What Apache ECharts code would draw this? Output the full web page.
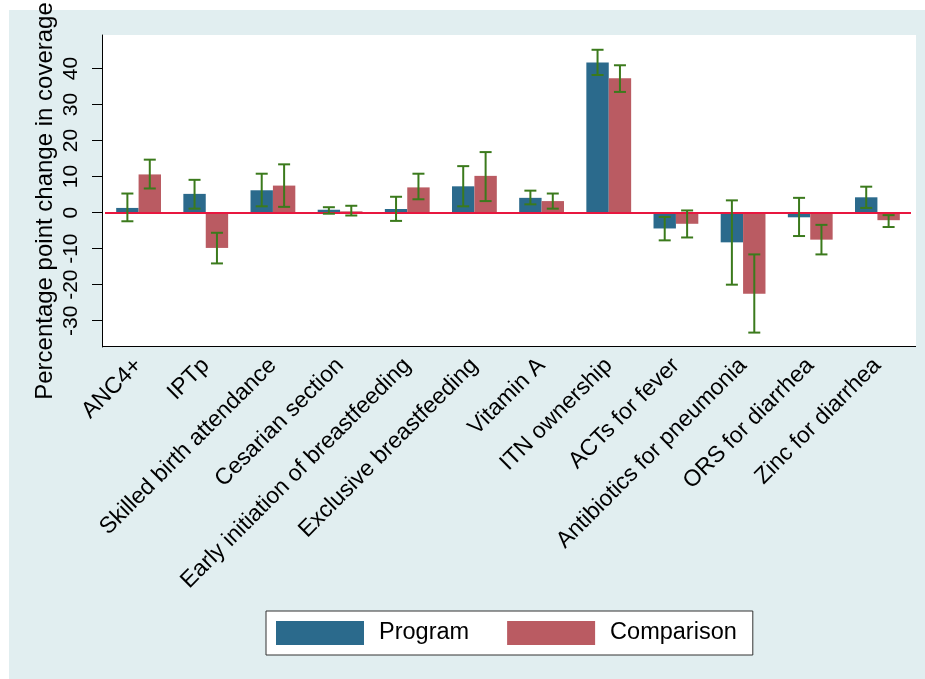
<!DOCTYPE html>
<html>
<head>
<meta charset="utf-8">
<script src="https://cdn.jsdelivr.net/npm/echarts@6/dist/echarts.min.js"></script>
<style>
html,body{margin:0;padding:0;background:#ffffff;}
#chart{width:925px;height:679px;}
</style>
</head>
<body>
<div id="chart"></div>
<script>
const categories = ['ANC4+','IPTp','Skilled birth attendance','Cesarian section','Early initiation of breastfeeding','Exclusive breastfeeding','Vitamin A','ITN ownership','ACTs for fever','Antibiotics for pneumonia','ORS for diarrhea','Zinc for diarrhea'];
const program        = [1.3, 5.2, 6.2, 0.8, 1.0, 7.3, 4.1, 41.7, -4.4, -8.25, -1.3, 4.25];
const programLow     = [-2.4, 1.1, 1.75, -0.3, -2.3, 1.75, 2.3, 38.2, -7.7, -20.0, -6.5, 1.3];
const programHigh    = [5.3, 9.1, 10.8, 1.5, 4.4, 12.9, 6.1, 45.2, -1.2, 3.4, 4.1, 7.2];
const comparison     = [10.6, -9.8, 7.5, 0.35, 7.0, 10.2, 3.2, 37.3, -3.1, -22.5, -7.5, -2.1];
const comparisonLow  = [6.7, -14.1, 1.6, -0.8, 3.7, 3.2, 1.1, 33.5, -6.9, -33.3, -11.6, -4.0];
const comparisonHigh = [14.7, -5.6, 13.4, 1.9, 10.8, 16.8, 5.3, 40.9, 0.6, -11.6, -3.4, -0.7];
const yTicks = [-30, -20, -10, 0, 10, 20, 30, 40];
const yTitle = 'Percentage point change in coverage';
const seriesNames = ['Program', 'Comparison'];

const FONT = '"Liberation Sans", Arial, sans-serif';
const BAR_W = 22.4;
const C_PROG = '#2b6a8c';
const C_COMP = '#ba5b62';
const C_ERR = '#3b7a1c';

function errData(lo, hi) { return lo.map((v, i) => [i, v, hi[i]]); }
function errRender(offset) {
  return function (params, api) {
    const cat = api.value(0), lo = api.value(1), hi = api.value(2);
    const x = api.coord([cat, 0])[0] + offset;
    const yHi = api.coord([cat, hi])[1];
    const yLo = api.coord([cat, lo])[1];
    const hw = 6;
    const st = { stroke: C_ERR, lineWidth: 2 };
    return { type: 'group', children: [
      { type: 'line', shape: { x1: x, y1: yHi, x2: x, y2: yLo }, style: st },
      { type: 'line', shape: { x1: x - hw, y1: yHi, x2: x + hw, y2: yHi }, style: st },
      { type: 'line', shape: { x1: x - hw, y1: yLo, x2: x + hw, y2: yLo }, style: st }
    ]};
  };
}

const chart = echarts.init(document.getElementById('chart'), null, { renderer: 'canvas' });
chart.setOption({
  animation: false,
  backgroundColor: '#ffffff',
  textStyle: { fontFamily: FONT },
  graphic: [
    { type: 'rect', z: -20, shape: { x: 9, y: 10, width: 916, height: 669 }, style: { fill: '#e1eef0' } },
    { type: 'rect', z: -10, shape: { x: 102, y: 35, width: 814, height: 312 }, style: { fill: '#ffffff' } },
    { type: 'line', z: 1, shape: { x1: 102, y1: 346.5, x2: 916, y2: 346.5 }, style: { stroke: '#000000', lineWidth: 1 } },
    { type: 'text', x: 45, y: 201, rotation: Math.PI / 2,
      style: { text: yTitle, font: '24px ' + FONT, fill: '#000000', textAlign: 'center', textVerticalAlign: 'middle' } }
  ],
  grid: { left: 105, right: 14, top: 35, bottom: 332, containLabel: false },
  legend: {
    data: seriesNames,
    left: 266, top: 611,
    padding: [10, 16, 10, 10],
    backgroundColor: '#ffffff',
    borderColor: '#333333', borderWidth: 1, borderRadius: 0,
    itemWidth: 88, itemHeight: 24, itemGap: 38,
    icon: 'rect',
    textStyle: { fontSize: 23.5, color: '#000000', fontFamily: FONT, padding: [0, 0, 0, 10] }
  },
  xAxis: {
    type: 'category',
    data: categories,
    axisLine: { show: false },
    axisTick: { show: false },
    axisLabel: { rotate: 45, fontSize: 23, color: '#000000', margin: 15, interval: 0, fontFamily: FONT },
    splitLine: { show: false }
  },
  yAxis: {
    type: 'value',
    min: -37.3, max: 49.3,
    offset: 3,
    axisLine: { show: true, lineStyle: { color: '#000000', width: 1 } },
    axisTick: { show: true, length: 10, customValues: yTicks, lineStyle: { color: '#000000' } },
    axisLabel: { rotate: 90, fontSize: 21, color: '#000000', margin: 20, customValues: yTicks, fontFamily: FONT },
    splitLine: { show: false }
  },
  series: [
    { name: seriesNames[0], type: 'bar', data: program, barWidth: BAR_W, barGap: '0%',
      itemStyle: { color: C_PROG }, z: 2 },
    { name: seriesNames[1], type: 'bar', data: comparison, barWidth: BAR_W, barGap: '0%',
      itemStyle: { color: C_COMP }, z: 2,
      markLine: { silent: true, symbol: 'none', label: { show: false }, z: 4,
        lineStyle: { color: '#e8173f', width: 2, type: 'solid' }, data: [{ yAxis: 0 }] } },
    { name: 'Program CI', type: 'custom', renderItem: errRender(-BAR_W / 2), data: errData(programLow, programHigh), z: 6, silent: true },
    { name: 'Comparison CI', type: 'custom', renderItem: errRender(BAR_W / 2), data: errData(comparisonLow, comparisonHigh), z: 6, silent: true }
  ]
});
</script>
</body>
</html>
